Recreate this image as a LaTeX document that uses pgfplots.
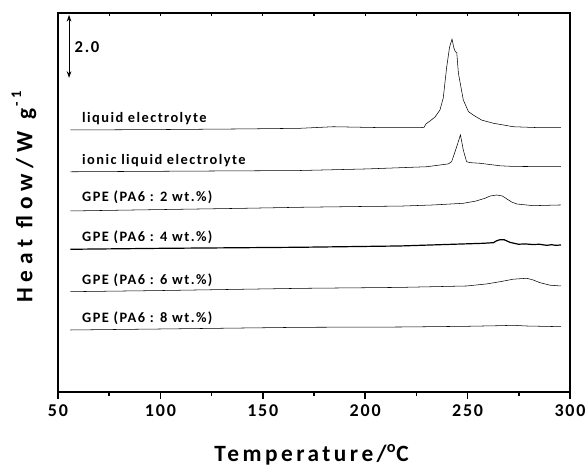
\documentclass[border=0pt]{standalone}
\usepackage{fontspec}
\setmainfont{Carlito}
\newfontfamily\spA[LetterSpace=10]{Carlito}
\newfontfamily\spB[LetterSpace=15]{Carlito}
\newfontfamily\spC[LetterSpace=25]{Carlito}
\usepackage{pgfplots}
\pgfplotsset{compat=1.18}
\usetikzlibrary{arrows.meta}
\begin{document}
\begin{tikzpicture}
\useasboundingbox (-43.5pt,-55.5pt) rectangle (397.5pt,294pt);
\begin{axis}[
  at={(0,0)}, anchor=south west,
  scale only axis, width=384pt, height=284.25pt,
  xmin=50, xmax=300, ymin=0, ymax=12.03,
  axis line style={line width=1.5pt},
  xtick={50,100,150,200,250,300},
  xticklabels={50,100,150,200,250,300},
  minor xtick={75,125,175,225,275},
  xtick pos=bottom, tick align=outside,
  major tick length=5pt, minor tick length=3pt,
  every tick/.style={black, line width=1.2pt},
  ytick=\empty,
  xticklabel style={font=\spA\bfseries\fontsize{13.5}{14}\selectfont, yshift=-1pt},
  xlabel={Temperature/\textsuperscript{o}C},
  xlabel style={font=\spB\bfseries\fontsize{17.5}{18}\selectfont, at={(axis description cs:0.495,0)}, anchor=base, yshift=-52pt},
  ylabel={Heat flow/W g\raisebox{1.0ex}{\fontsize{11}{12}\selectfont\,-1}},
  ylabel style={font=\spC\bfseries\fontsize{17.5}{18}\selectfont, at={(axis description cs:-0.05,0.515)}, anchor=base, rotate=0},
  clip=false,
  cycle list={{black,solid,mark=none,line width=0.9pt}},
]
% liquid electrolyte
\addplot coordinates {(56,8.317)(100,8.33)(140,8.35)(168.2,8.37)(184.4,8.42)(208.8,8.39)(226.8,8.39)(228.7,8.40)(229.7,8.51)(232,8.62)(234.1,8.73)(236.5,8.95)(238.1,9.33)(239.8,10.32)(241.2,10.95)(242.4,11.20)(243.3,10.92)(244,10.80)(244.7,10.78)(245.5,10.12)(247.9,9.27)(250.4,8.90)(252.8,8.79)(256.9,8.63)(262.6,8.53)(272.3,8.42)(285,8.39)(295.6,8.39)};
% ionic liquid electrolyte
\addplot coordinates {(56,6.99)(168.2,7.03)(200.7,7.08)(230,7.15)(240.6,7.24)(242.2,7.31)(244.7,7.79)(246.5,8.16)(247.9,7.68)(249.5,7.31)(251.2,7.28)(256,7.26)(265.8,7.18)(272.3,7.16)(295.6,7.15)};
% GPE 2
\addplot coordinates {(56,5.746)(100,5.79)(140,5.83)(168.2,5.863)(200,5.89)(217,5.90)(233.3,5.937)(247.9,5.99)(254,6.06)(258.5,6.15)(261,6.22)(264.2,6.254)(267,6.22)(269.1,6.13)(271.5,6.03)(274,5.968)(282,5.914)(295.6,5.937)};
% GPE 4
\addplot coordinates {(56,4.53)(100,4.56)(168.2,4.594)(217,4.635)(257.7,4.72)(262.6,4.74)(264.2,4.80)(265.8,4.835)(267.8,4.835)(270.7,4.75)(274.8,4.69)(278,4.70)(282,4.68)(285,4.69)(288.6,4.655)(291,4.675)(293,4.655)(295.6,4.667)};
% GPE 6
\addplot coordinates {(56,3.184)(100,3.22)(168.2,3.29)(217,3.32)(249.5,3.365)(259.3,3.43)(265.8,3.50)(272.3,3.58)(278.8,3.61)(282,3.556)(285.3,3.47)(290.2,3.39)(295.6,3.365)};
% GPE 8
\addplot coordinates {(56,1.968)(100,2.00)(168.2,2.053)(217,2.063)(249.5,2.085)(265.8,2.105)(272.3,2.117)(278.8,2.095)(295.6,2.073)};
% scale bar
\addplot[black, line width=0.8pt, {Stealth[length=5pt,width=3.5pt]}-{Stealth[length=5pt,width=3.5pt]}] coordinates {(55.4,9.97)(55.4,11.97)};
\node[anchor=base west, inner sep=0pt, font=\spA\bfseries\fontsize{12.5}{13}\selectfont] at (axis cs:58.0,10.77) {2.0};
\tikzset{lab/.style={anchor=base west, inner sep=0pt, font=\spA\bfseries\fontsize{10.8}{12}\selectfont}}
\node[lab] at (axis cs:61.7,8.55) {liquid electrolyte};
\node[lab] at (axis cs:61.7,7.21) {ionic liquid electrolyte};
\node[lab] at (axis cs:61.7,6.04) {GPE (PA6 : 2 wt.\%)};
\node[lab] at (axis cs:61.7,4.77) {GPE (PA6 : 4 wt.\%)};
\node[lab] at (axis cs:61.7,3.40) {GPE (PA6 : 6 wt.\%)};
\node[lab] at (axis cs:61.7,2.20) {GPE (PA6 : 8 wt.\%)};
\end{axis}
\begin{axis}[
  at={(0,0)}, anchor=south west,
  scale only axis, width=384pt, height=284.25pt,
  xmin=50, xmax=300, ymin=0, ymax=12.03,
  axis line style={line width=1.5pt},
  xtick={50,100,150,200,250,300},
  minor xtick={75,125,175,225,275},
  xticklabels={}, ytick=\empty,
  xtick pos=top, tick align=inside,
  major tick length=2pt, minor tick length=2pt,
  every tick/.style={black, line width=1pt},
]
\end{axis}
\end{tikzpicture}
\end{document}
